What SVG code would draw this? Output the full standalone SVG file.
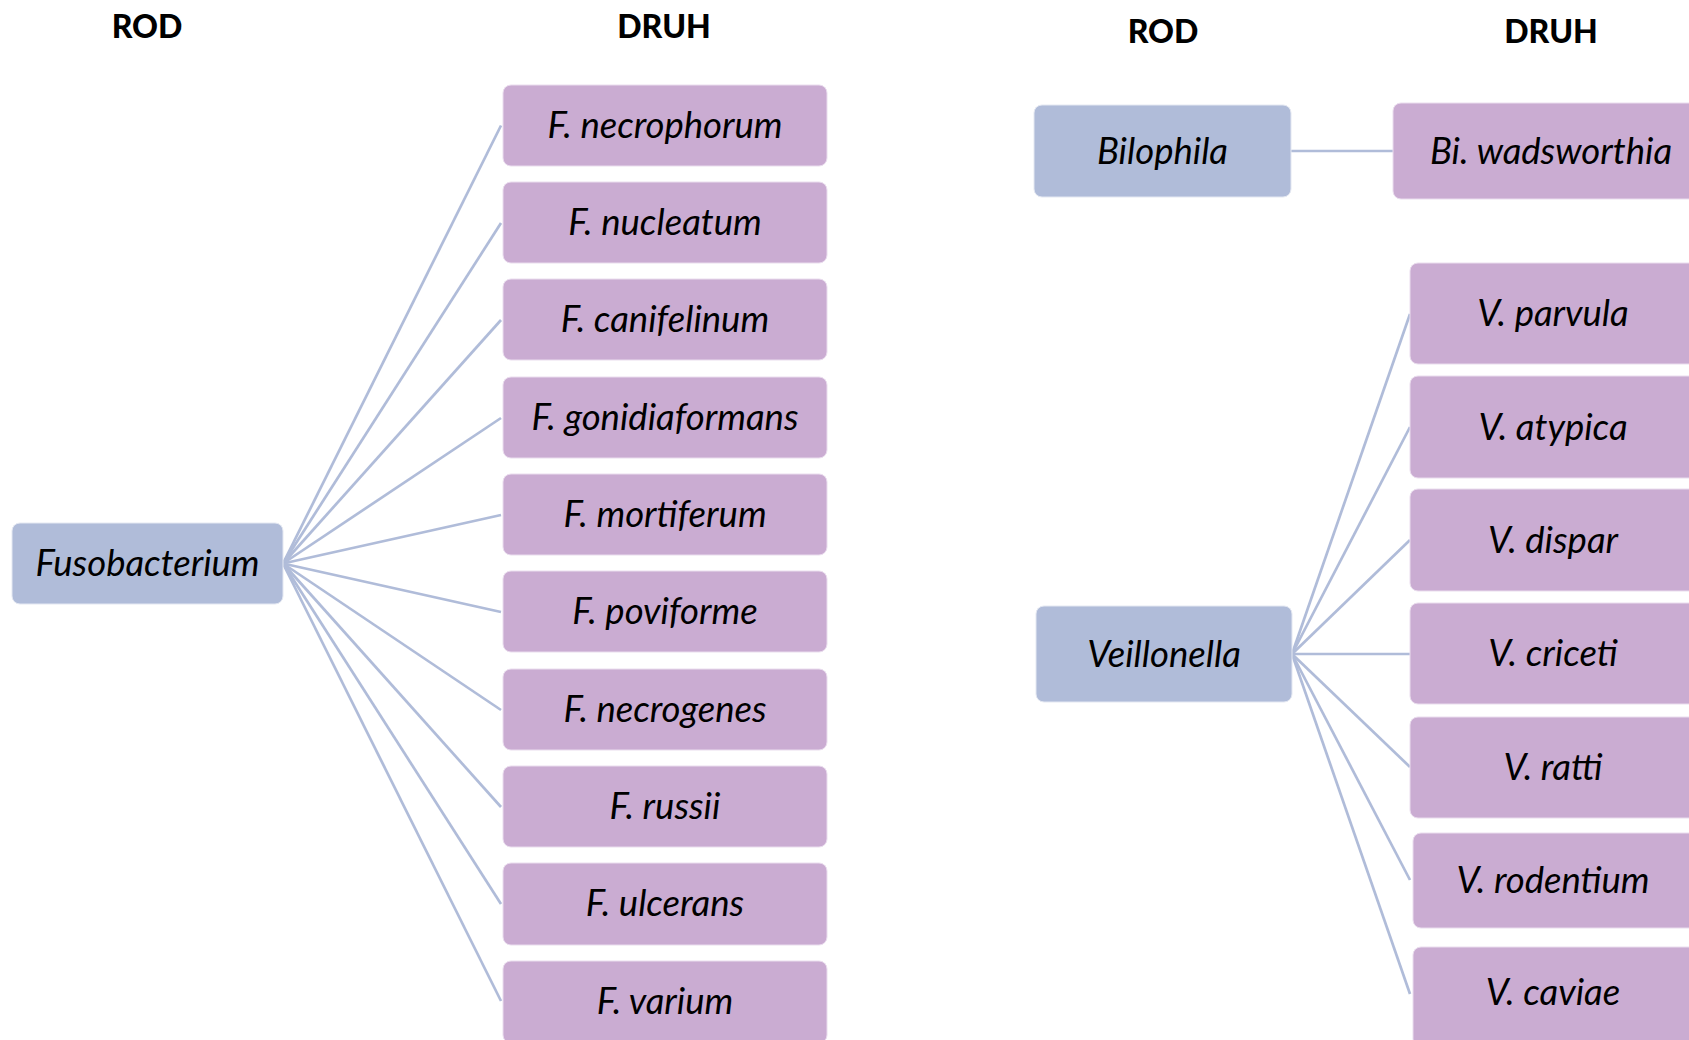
<svg xmlns="http://www.w3.org/2000/svg" width="1689" height="1040" viewBox="0 0 1689 1040">
<style>
.hdr{font-family:Lato,"Open Sans","Liberation Sans",sans-serif;font-weight:900;font-size:32px;fill:#000;text-anchor:middle}
.lbl{font-family:Lato,"Open Sans","Liberation Sans",sans-serif;font-style:italic;font-size:36.5px;fill:#000;text-anchor:middle}
.rod{fill:#B0BCD9;stroke:#E4E8F2;stroke-width:1}
.druh{fill:#CAACD2;stroke:#EADDEE;stroke-width:1}
.con line{stroke:#B0BCD9;stroke-width:2.7;fill:none}
</style>
<rect width="1689" height="1040" fill="#fff"/>
<g id="headers">
<text class="hdr" x="147" y="38">ROD</text>
<text class="hdr" x="664" y="38">DRUH</text>
<text class="hdr" x="1163" y="43">ROD</text>
<text class="hdr" x="1551" y="43">DRUH</text>
</g>
<g id="connectors" class="con">
<line x1="283" y1="563.5" x2="501" y2="125.5"/>
<line x1="283" y1="563.5" x2="501" y2="223"/>
<line x1="283" y1="563.5" x2="501" y2="320"/>
<line x1="283" y1="563.5" x2="501" y2="418"/>
<line x1="283" y1="563.5" x2="501" y2="515"/>
<line x1="283" y1="563.5" x2="501" y2="612"/>
<line x1="283" y1="563.5" x2="501" y2="710"/>
<line x1="283" y1="563.5" x2="501" y2="807"/>
<line x1="283" y1="563.5" x2="501" y2="904"/>
<line x1="283" y1="563.5" x2="501" y2="1001"/>
<line x1="1291" y1="151" x2="1393" y2="151"/>
<line x1="1292" y1="654" x2="1410" y2="314"/>
<line x1="1292" y1="654" x2="1410" y2="427"/>
<line x1="1292" y1="654" x2="1410" y2="540"/>
<line x1="1292" y1="654" x2="1410" y2="654"/>
<line x1="1292" y1="654" x2="1410" y2="767"/>
<line x1="1292" y1="654" x2="1410" y2="880"/>
<line x1="1292" y1="654" x2="1410" y2="994"/>
</g>
<g id="fusobacterium"><rect class="rod" x="12" y="523" width="271" height="81" rx="8"/><text class="lbl" x="147.5" y="576">Fusobacterium</text></g>
<g id="f-necrophorum"><rect class="druh" x="503" y="85" width="324" height="81" rx="8"/><text class="lbl" x="665" y="138">F. necrophorum</text></g>
<g id="f-nucleatum"><rect class="druh" x="503" y="182" width="324" height="81" rx="8"/><text class="lbl" x="665" y="235">F. nucleatum</text></g>
<g id="f-canifelinum"><rect class="druh" x="503" y="279" width="324" height="81" rx="8"/><text class="lbl" x="665" y="332">F. canifelinum</text></g>
<g id="f-gonidiaformans"><rect class="druh" x="503" y="377" width="324" height="81" rx="8"/><text class="lbl" x="665" y="430">F. gonidiaformans</text></g>
<g id="f-mortiferum"><rect class="druh" x="503" y="474" width="324" height="81" rx="8"/><text class="lbl" x="665" y="527">F. mortiferum</text></g>
<g id="f-poviforme"><rect class="druh" x="503" y="571" width="324" height="81" rx="8"/><text class="lbl" x="665" y="624">F. poviforme</text></g>
<g id="f-necrogenes"><rect class="druh" x="503" y="669" width="324" height="81" rx="8"/><text class="lbl" x="665" y="722">F. necrogenes</text></g>
<g id="f-russii"><rect class="druh" x="503" y="766" width="324" height="81" rx="8"/><text class="lbl" x="665" y="819">F. russii</text></g>
<g id="f-ulcerans"><rect class="druh" x="503" y="863" width="324" height="82" rx="8"/><text class="lbl" x="665" y="916">F. ulcerans</text></g>
<g id="f-varium"><rect class="druh" x="503" y="961" width="324" height="82" rx="8"/><text class="lbl" x="665" y="1014">F. varium</text></g>
<g id="bilophila"><rect class="rod" x="1034" y="105" width="257" height="92" rx="8"/><text class="lbl" x="1162.5" y="164">Bilophila</text></g>
<g id="bi-wadsworthia"><rect class="druh" x="1393" y="103" width="318" height="96" rx="8"/><text class="lbl" x="1551" y="164">Bi. wadsworthia</text></g>
<g id="veillonella"><rect class="rod" x="1036" y="606" width="256" height="96" rx="8"/><text class="lbl" x="1164" y="667">Veillonella</text></g>
<g id="v-parvula"><rect class="druh" x="1410" y="263" width="290" height="101" rx="8"/><text class="lbl" x="1553" y="326">V. parvula</text></g>
<g id="v-atypica"><rect class="druh" x="1410" y="376" width="290" height="102" rx="8"/><text class="lbl" x="1553" y="440">V. atypica</text></g>
<g id="v-dispar"><rect class="druh" x="1410" y="489" width="290" height="102" rx="8"/><text class="lbl" x="1553" y="553">V. dispar</text></g>
<g id="v-criceti"><rect class="druh" x="1410" y="603" width="290" height="101" rx="8"/><text class="lbl" x="1553" y="666">V. criceti</text></g>
<g id="v-ratti"><rect class="druh" x="1410" y="717" width="290" height="101" rx="8"/><text class="lbl" x="1553" y="780">V. ratti</text></g>
<g id="v-rodentium"><rect class="druh" x="1413" y="833" width="290" height="95" rx="8"/><text class="lbl" x="1553" y="893">V. rodentium</text></g>
<g id="v-caviae"><rect class="druh" x="1413" y="947" width="290" height="100" rx="8"/><text class="lbl" x="1553" y="1005">V. caviae</text></g>
</svg>
